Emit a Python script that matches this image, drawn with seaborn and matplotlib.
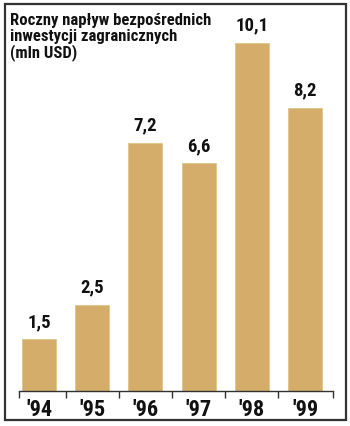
import matplotlib
matplotlib.use("Agg")
import matplotlib.pyplot as plt
from matplotlib.patches import Rectangle
import seaborn as sns
import pandas as pd

years = ["'94", "'95", "'96", "'97", "'98", "'99"]
values = [1.5, 2.5, 7.2, 6.6, 10.1, 8.2]
value_labels = ["1,5", "2,5", "7,2", "6,6", "10,1", "8,2"]
title = "Roczny napływ bezpośrednich\ninwestycji zagranicznych\n(mln USD)"

sns.set_theme(style="white")
plt.rcParams['font.family'] = ['Roboto Condensed', 'DejaVu Sans']

W, H = 350, 427
fig = plt.figure(figsize=(W / 100, H / 100), dpi=100)
fig.patch.set_facecolor("white")

# frame around the chart
fig.patches.append(Rectangle((5 / W, (H - 421) / H), 341 / W, 416 / H,
                             transform=fig.transFigure, fill=False,
                             edgecolor="#333333", linewidth=1.6))

left_px, right_px, base_px, top_px = 19, 333, 392, 20
ax = fig.add_axes([left_px / W, (H - base_px) / H,
                   (right_px - left_px) / W, (base_px - top_px) / H])
ax.set_facecolor("none")

df = pd.DataFrame({"year": years, "value": values})
bar_color = "#D4AD6B"
sns.barplot(data=df, x="year", y="value", ax=ax, color=bar_color,
            width=0.64, saturation=1, edgecolor="#E2C388", linewidth=0.6)

px_per_unit = 34.5
ax.set_ylim(0, (base_px - top_px) / px_per_unit)
xl = (left_px - 39) / 53.2
xr = (right_px - 39) / 53.2
ax.set_xlim(xl, xr)

for i, (v, lab) in enumerate(zip(values, value_labels)):
    ax.text(i, v + 0.27, lab, ha="center", va="bottom", fontsize=13.5,
            fontweight="bold", color="#111111")

for s in ["top", "right", "left"]:
    ax.spines[s].set_visible(False)
ax.spines["bottom"].set_color("#333333")
ax.spines["bottom"].set_linewidth(1.0)
ax.set_yticks([])
ax.set_xlabel("")
ax.set_ylabel("")

ax.set_xticks(range(len(years)))
ax.set_xticklabels(years, fontsize=16, fontweight="bold", color="#111111")
ax.tick_params(axis="x", which="major", length=0, pad=5)
ax.set_xticks([xl] + [i + 0.5 for i in range(len(years) - 1)] + [xr], minor=True)
ax.tick_params(axis="x", which="minor", length=5, width=1.0, color="#333333",
               bottom=True, direction="out")

fig.text(10 / W, 1 - 13 / H, title, ha="left", va="top", fontsize=12,
         fontweight="bold", color="#111111", linespacing=1.05)

fig.savefig("out.png", dpi=100)
